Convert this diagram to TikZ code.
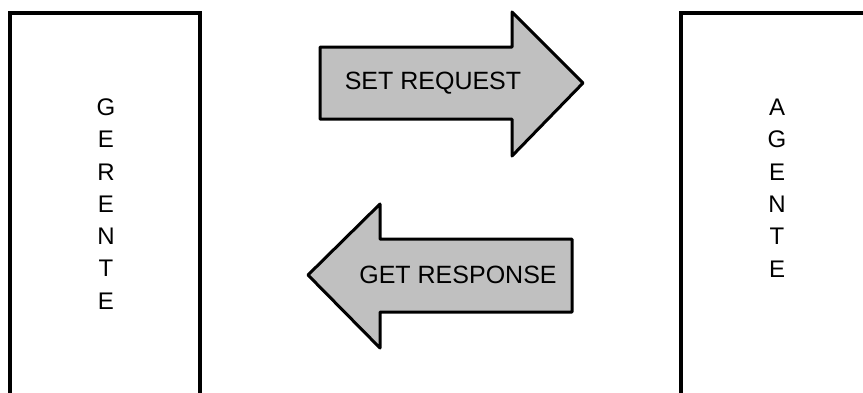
\documentclass[tikz,border=0pt]{standalone}
\usepackage{fontspec}
\setmainfont{Liberation Sans}
\begin{document}
\begin{tikzpicture}[x=1pt,y=-1pt,
  boxline/.style={line width=4pt, line join=miter},
  blockarrow/.style={draw=black, fill=arrowgray, line width=3pt, line join=round},
  vletters/.style={align=center, inner sep=0pt, font=\fontsize{24}{32.3}\selectfont},
  arrowlabel/.style={inner sep=0pt, font=\fontsize{25}{30}\selectfont}]
\definecolor{arrowgray}{HTML}{C0C0C0}
\useasboundingbox (0,0) rectangle (863,392);
\clip (0,0) rectangle (863,392);
% boxes
\draw[boxline] (9.5,430) -- (9.5,13) -- (200,13) -- (200,430);
\draw[boxline] (680.5,430) -- (680.5,13) -- (900,13);
\node[vletters] (gerente) at (106,204) {G\\E\\R\\E\\N\\T\\E};
\node[vletters] (agente) at (777,188) {A\\G\\E\\N\\T\\E};
% arrows
\draw[blockarrow] (320,47) -- (512,47) -- (512,12) -- (583,83) -- (512,156) -- (512,119) -- (320,119) -- cycle;
\node[arrowlabel] (setreq) at (433,83) {SET REQUEST};
\draw[blockarrow] (572,239) -- (380,239) -- (380,204) -- (308,275) -- (380,348) -- (380,312) -- (572,312) -- cycle;
\node[arrowlabel] (getresp) at (458,275) {GET RESPONSE};
\end{tikzpicture}
\end{document}
